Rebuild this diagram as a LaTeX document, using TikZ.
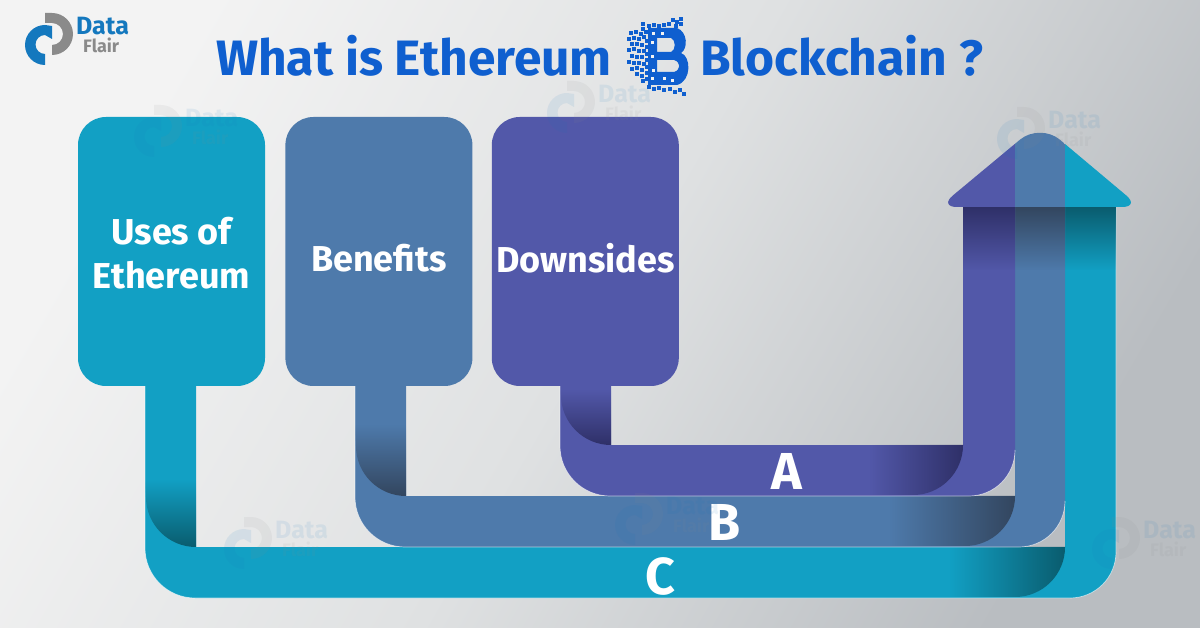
\documentclass[tikz,border=0pt]{standalone}
\usepackage{fontspec}
\usetikzlibrary{positioning,fadings}
\setmainfont{Fira Sans}
\definecolor{pageLight}{HTML}{F3F3F3}
\definecolor{pageMid}{HTML}{DFE1E2}
\definecolor{pageDark}{HTML}{B9BDC1}
\definecolor{titleBlue}{HTML}{0F5FCF}
\definecolor{logoBlue}{HTML}{1478BE}
\definecolor{logoGray}{HTML}{8A8A8A}
\definecolor{teal}{HTML}{12A0C4}
\definecolor{tealDark}{HTML}{0A5C6E}
\definecolor{steel}{HTML}{4E7AAB}
\definecolor{steelDark}{HTML}{33465F}
\definecolor{indigo}{HTML}{5258A9}
\definecolor{indigoDark}{HTML}{2F3068}
\tikzset{
	optionbox/.style={rounded corners=28pt, minimum width=187pt, minimum height=269pt, inner sep=0pt},
	boxtext/.style={text=white, font=\fontsize{36}{44}\selectfont\bfseries, align=center, inner sep=0pt},
	ribbonlabel/.style={text=white, font=\fontsize{52}{52}\selectfont\bfseries, inner sep=0pt},
	titletext/.style={anchor=base west, inner sep=0pt, text=titleBlue, font=\fontsize{49.7}{50}\selectfont\bfseries},
	edgeline/.style={white, opacity=.6, line width=.7pt},
	fadedown/.style={fill=#1, path fading=north},
	fadeup/.style={fill=#1, path fading=south},
	faderight/.style={fill=#1, path fading=west},
	flairlogo/.pic={
		\fill[logoGray] (0,13) -- (7,13) arc[start angle=-90, end angle=90, radius=21] -- (7,45) arc[start angle=90, end angle=-90, radius=11] -- (0,23) -- cycle;
		\fill[logoBlue] (0,25) arc[start angle=-90, end angle=-270, radius=20] -- (0,54) arc[start angle=90, end angle=270, radius=9.5] -- (7,39) -- (7,26) -- cycle;
		\node[inner sep=0pt, text=logoBlue, font=\fontsize{25}{25}\selectfont\bfseries, anchor=west] at (31,26) {Data};
		\node[inner sep=0pt, text=logoGray, font=\fontsize{18}{18}\selectfont\bfseries, anchor=west] at (38,45) {Flair};
	}
}
\begin{document}
\begin{tikzpicture}[x=1pt, y=-1pt]
	\useasboundingbox (0,0) rectangle (1200,628);
	\shade[shading=axis, top color=pageLight, bottom color=pageDark, middle color=pageMid, shading angle=60] (0,0) rectangle (1200,628);

	% logo top left
	\pic at (45,0) {flairlogo};

	% title
	\node[titletext] (whatis) at (216,76) {What is Ethereum};
	\node[titletext] (chain) at (700,76) {Blockchain ?};

	% coin
	\begin{scope}[shift={(627,17)}]
		\fill[titleBlue,even odd rule] (21,11) -- (50,11) .. controls (61,15) and (61,32) .. (54,36) .. controls (64,39) and (65,64) .. (50,68) -- (21,68) -- cycle
			(30,21) -- (44,21) .. controls (49,23) and (49,33) .. (44,35) -- (30,35) -- cycle
			(30,43) -- (47,43) .. controls (54,45) and (54,53) .. (47,55) -- (30,55) -- cycle;
		\foreach \px/\py in {14/5,14/10,20/7,25/6,30/7,35/6,40/5,44/1,48/3,52/0,52/5,47/7,2/14,7/13,12/15,17/13,0/20,5/19,10/20,15/18,18/22,3/25,8/25,13/26,18/28,0/31,5/30,10/32,15/32,18/35,3/37,8/38,13/38,18/41,0/43,5/44,10/44,15/45,18/48,3/50,8/49,13/51,18/54,8/55,13/57,18/60,14/62,20/68,25/70,30/69,35/71,41/70,46/73,51/71,55/75,24/63}
			\fill[titleBlue] (\px,\py) rectangle ++(3.6,3.6);
		\foreach \px/\py in {25/15,34/15,24/24,24/38,25/52,24/60,36/60,44/62}
			\fill[pageLight] (\px,\py) rectangle ++(2.6,2.6);
	\end{scope}

	% ribbon C
	\fill[teal] (145,386) -- (196,386) -- (196,547) -- (1065,547) -- (1065,207) -- (1116,207) -- (1116,552) arc[start angle=0, end angle=90, radius=46] -- (195,598) arc[start angle=90, end angle=180, radius=50] -- cycle;
	\draw[edgeline] (145,386) -- (145,548) arc[start angle=180, end angle=90, radius=50] -- (1070,598) arc[start angle=90, end angle=0, radius=46] -- (1116,207);
	\path[fadedown=tealDark] (145,480) -- (196,480) -- (196,547) arc[start angle=90, end angle=180, radius=50] -- cycle;
	\path[faderight=tealDark] (950,547) -- (1065,547) arc[start angle=0, end angle=90, radius=50] -- (950,597) -- cycle;
	\path[fadeup=tealDark] (1065,207) rectangle (1116,270);

	% ribbon B
	\fill[steel] (355,386) -- (406,386) -- (406,496) -- (1015,496) -- (1015,207) -- (1065,207) -- (1065,501) arc[start angle=0, end angle=90, radius=46] -- (405,547) arc[start angle=90, end angle=180, radius=50] -- cycle;
	\draw[edgeline] (355,386) -- (355,497) arc[start angle=180, end angle=90, radius=50] -- (1019,547) arc[start angle=90, end angle=0, radius=46];
	\path[fadedown=steelDark] (355,425) -- (406,425) -- (406,496) arc[start angle=90, end angle=180, radius=50] -- cycle;
	\path[faderight=steelDark] (890,496) -- (1015,496) arc[start angle=0, end angle=90, radius=50] -- (890,546) -- cycle;
	\path[fadeup=steelDark] (1015,207) rectangle (1065,270);

	% ribbon A
	\fill[indigo] (560,386) -- (611,386) -- (611,445) -- (963,445) -- (963,207) -- (1015,207) -- (1015,450) arc[start angle=0, end angle=90, radius=46] -- (610,496) arc[start angle=90, end angle=180, radius=50] -- cycle;
	\draw[edgeline] (560,386) -- (560,446) arc[start angle=180, end angle=90, radius=50] -- (969,496) arc[start angle=90, end angle=0, radius=46];
	\path[fadedown=indigoDark] (560,390) -- (611,390) -- (611,445) arc[start angle=90, end angle=180, radius=50] -- cycle;
	\path[faderight=indigoDark] (870,445) -- (963,445) arc[start angle=0, end angle=90, radius=50] -- (870,495) -- cycle;
	\path[fadeup=indigoDark] (963,207) rectangle (1015,270);

	% arrow head
	\begin{scope}
		\clip (939,207) [rounded corners=26pt] -- (1040,123) [rounded corners=18pt] -- (1140,207) -- cycle;
		\fill[indigo] (925,115) rectangle (1015,215);
		\fill[steel] (1015,115) rectangle (1065,215);
		\fill[teal] (1065,115) rectangle (1155,215);
	\end{scope}

	% boxes
	\node[optionbox, fill=teal, label={[boxtext, yshift=-2pt]center:Uses of\\Ethereum}] (uses) at (171.5,251.5) {};
	\node[optionbox, fill=steel, right=20pt of uses, label={[boxtext, yshift=-7pt]center:Benefits}] (benefits) {};
	\node[optionbox, fill=indigo, right=19pt of benefits, label={[boxtext, yshift=-7pt]center:Downsides}] (downsides) {};

	% letters
	\node[ribbonlabel] (lettera) at (787,471) {A};
	\node[ribbonlabel] (letterb) at (725,522) {B};
	\node[ribbonlabel] (letterc) at (660,576) {C};

	% watermarks
	\begin{scope}[opacity=.09, transparency group]
		\pic at (154,92) {flairlogo};
		\pic at (567,68) {flairlogo};
		\pic at (1017,94) {flairlogo};
		\pic at (244,504) {flairlogo};
		\pic at (635,480) {flairlogo};
		\pic at (1112,504) {flairlogo};
	\end{scope}
\end{tikzpicture}
\end{document}
